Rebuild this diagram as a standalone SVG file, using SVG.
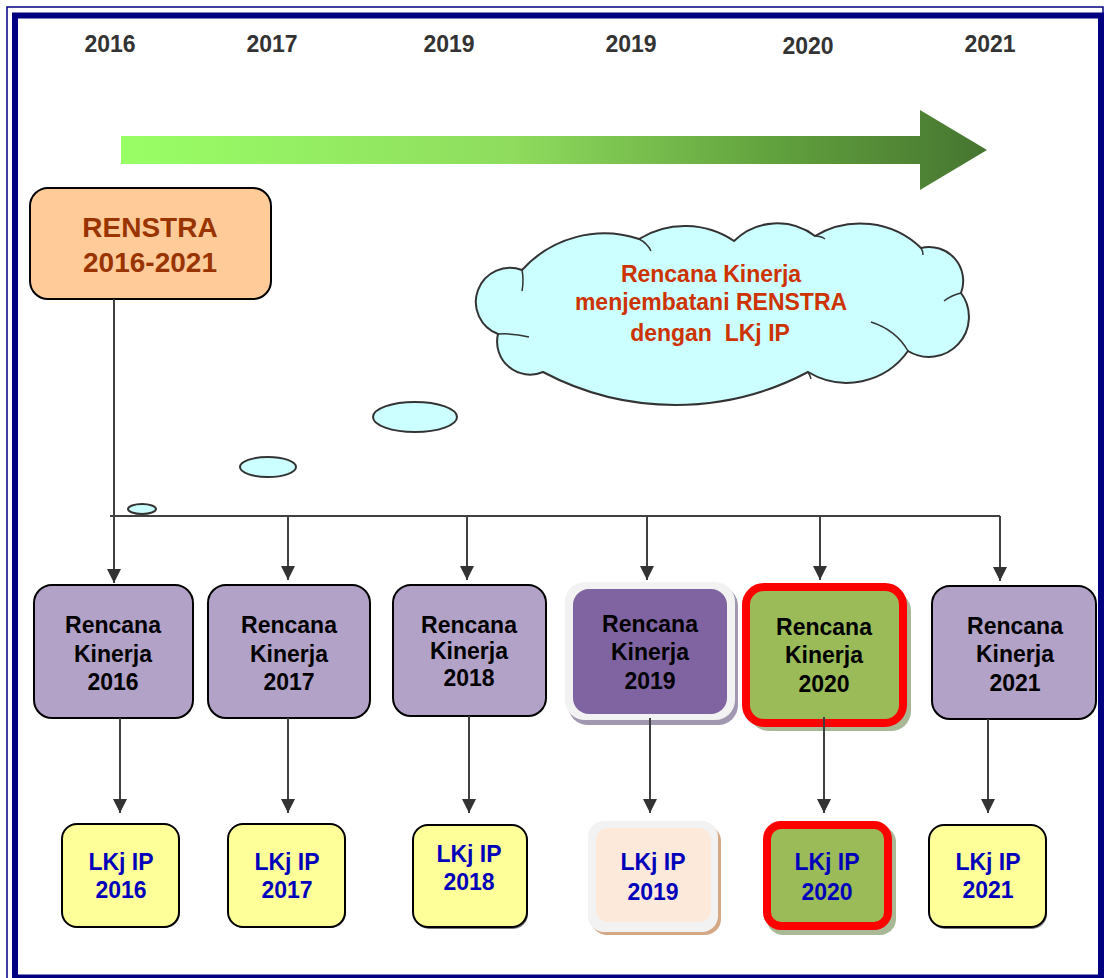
<svg xmlns="http://www.w3.org/2000/svg" width="1106" height="978" viewBox="0 0 1106 978">
<style>
.yr{font-family:"Liberation Sans",Arial,sans-serif;font-weight:bold;font-size:23px;fill:#333;text-anchor:middle}
.rk{font-family:"Liberation Sans",Arial,sans-serif;font-weight:bold;font-size:23px;fill:#000;text-anchor:middle}
.lk{font-family:"Liberation Sans",Arial,sans-serif;font-weight:bold;font-size:23px;fill:#0000bb;text-anchor:middle}
.cl{font-family:"Liberation Sans",Arial,sans-serif;font-weight:bold;font-size:23px;fill:#cc3300;text-anchor:middle}
.lav{fill:#b3a2c7;stroke:#000;stroke-width:2}
.yel{fill:#ffff99;stroke:#000;stroke-width:2}
.ysh{fill:#777}
.conn{stroke:#404040;stroke-width:2;fill:none}
.crease{stroke:#333;stroke-width:1.5;fill:none}
</style>
<defs>
<linearGradient id="g" x1="121" y1="0" x2="987" y2="0" gradientUnits="userSpaceOnUse">
<stop offset="0" stop-color="#99ff66"/>
<stop offset="0.45" stop-color="#8fdc5e"/>
<stop offset="0.75" stop-color="#62a23e"/>
<stop offset="1" stop-color="#467530"/>
</linearGradient>
<marker id="ah" markerUnits="userSpaceOnUse" markerWidth="14" markerHeight="14" refX="14" refY="7" orient="auto">
<path d="M0,0 L14,7 L0,14 z" fill="#333"/>
</marker>
</defs>
<rect width="1106" height="978" fill="#fff"/>
<g id="frame" fill="none">
<rect x="7" y="7" width="1096" height="980" stroke="#000080" stroke-width="1.5"/>
<rect x="15" y="15.5" width="1086" height="962" stroke="#000080" stroke-width="6"/>
</g>
<g id="years">
<text class="yr" x="110" y="52">2016</text>
<text class="yr" x="272" y="52">2017</text>
<text class="yr" x="449" y="52">2019</text>
<text class="yr" x="631" y="52">2019</text>
<text class="yr" x="808" y="54">2020</text>
<text class="yr" x="990" y="52">2021</text>
</g>
<g id="timeline-arrow">
<polygon points="121,136 920,136 920,110 987,150 920,190 920,164 121,164" fill="url(#g)"/>
</g>
<g id="renstra">
<rect x="30" y="188" width="241" height="111" rx="18" fill="#ffcc99" stroke="#000" stroke-width="2"/>
<text x="150" y="237" font-family="Liberation Sans, Arial, sans-serif" font-weight="bold" font-size="28" fill="#993300" text-anchor="middle">RENSTRA</text>
<text x="150" y="272" font-family="Liberation Sans, Arial, sans-serif" font-weight="bold" font-size="28" fill="#993300" text-anchor="middle">2016-2021</text>
</g>
<g id="cloud">
<path d="M522,270 A111,111 0 0 1 639,239 A88,88 0 0 1 734,241 A62,62 0 0 1 815,236 A88,88 0 0 1 921,248 A34,34 0 0 1 961,293 A40,40 0 0 1 908,351 A75,75 0 0 1 808,372 A283,283 0 0 1 543,372 A33,33 0 0 1 498,334 A34,34 0 0 1 522,270 Z" fill="#ccffff" stroke="#333" stroke-width="2"/>
<path class="crease" d="M522,270 q2,10 0,21"/>
<path class="crease" d="M639,239 q8,4 12,12"/>
<path class="crease" d="M815,236 q6,0 10,3"/>
<path class="crease" d="M921,248 q2,3 2,7"/>
<path class="crease" d="M961,293 q-9,2 -17,8"/>
<path class="crease" d="M871,322 q25,8 37,29"/>
<path class="crease" d="M808,372 q2,3 3,7"/>
<path class="crease" d="M529,337 q-16,-4 -31,-3"/>
<text class="cl" x="711" y="282">Rencana Kinerja</text>
<text class="cl" x="711" y="310">menjembatani RENSTRA</text>
<text class="cl" x="710" y="341" xml:space="preserve">dengan  LKj IP</text>
</g>
<g id="bubbles" fill="#ccffff" stroke="#333" stroke-width="2">
<ellipse cx="415" cy="417" rx="42" ry="15"/>
<ellipse cx="268" cy="467" rx="28" ry="10"/>
<ellipse cx="142" cy="509" rx="14" ry="5"/>
</g>
<g id="rk2016">
<rect class="lav" x="34" y="585" width="159" height="133" rx="18"/>
<text class="rk" x="113" y="633">Rencana</text>
<text class="rk" x="113" y="662">Kinerja</text>
<text class="rk" x="113" y="690">2016</text>
</g>
<g id="rk2017">
<rect class="lav" x="208" y="585" width="162" height="133" rx="18"/>
<text class="rk" x="289" y="633">Rencana</text>
<text class="rk" x="289" y="662">Kinerja</text>
<text class="rk" x="289" y="690">2017</text>
</g>
<g id="rk2018">
<rect class="lav" x="393" y="585" width="153" height="131" rx="18"/>
<text class="rk" x="469" y="633">Rencana</text>
<text class="rk" x="469" y="659">Kinerja</text>
<text class="rk" x="469" y="686">2018</text>
</g>
<g id="rk2019">
<rect x="568" y="586" width="170" height="139" rx="20" fill="#a197b0"/>
<rect x="565" y="582" width="170" height="138" rx="20" fill="#f2f2f2"/>
<rect x="573" y="589" width="154" height="125" rx="16" fill="#8064a2"/>
<text class="rk" x="650" y="632">Rencana</text>
<text class="rk" x="650" y="660">Kinerja</text>
<text class="rk" x="650" y="689">2019</text>
</g>
<g id="rk2020">
<rect x="749" y="591" width="162" height="140" rx="20" fill="#a9b996"/>
<rect x="746" y="587" width="157" height="136" rx="18" fill="#9bbb59" stroke="#ff0000" stroke-width="8"/>
<text class="rk" x="824" y="635">Rencana</text>
<text class="rk" x="824" y="663">Kinerja</text>
<text class="rk" x="824" y="692">2020</text>
</g>
<g id="rk2021">
<rect class="lav" x="932" y="586" width="164" height="133" rx="18"/>
<text class="rk" x="1015" y="634">Rencana</text>
<text class="rk" x="1015" y="662">Kinerja</text>
<text class="rk" x="1015" y="691">2021</text>
</g>
<g id="lk2016">
<rect class="ysh" x="63" y="826" width="117" height="102" rx="15"/>
<rect class="yel" x="62" y="824" width="117" height="103" rx="15"/>
<text class="lk" x="121" y="870">LKj IP</text>
<text class="lk" x="121" y="898">2016</text>
</g>
<g id="lk2017">
<rect class="ysh" x="229" y="826" width="117" height="102" rx="15"/>
<rect class="yel" x="228" y="824" width="117" height="103" rx="15"/>
<text class="lk" x="287" y="870">LKj IP</text>
<text class="lk" x="287" y="898">2017</text>
</g>
<g id="lk2018">
<rect class="ysh" x="414" y="827" width="114" height="102" rx="15"/>
<rect class="yel" x="413" y="825" width="114" height="102" rx="15"/>
<text class="lk" x="469" y="862">LKj IP</text>
<text class="lk" x="469" y="890">2018</text>
</g>
<g id="lk2019">
<rect x="591" y="825" width="130" height="110" rx="16" fill="#d4a885"/>
<rect x="588" y="821" width="130" height="111" rx="16" fill="#f2f2f2"/>
<rect x="596" y="828" width="115" height="94" rx="12" fill="#fde9d9"/>
<text class="lk" x="653" y="870">LKj IP</text>
<text class="lk" x="653" y="900">2019</text>
</g>
<g id="lk2020">
<rect x="767" y="826" width="129" height="109" rx="16" fill="#a9b996"/>
<rect x="767" y="825" width="121" height="101" rx="14" fill="#9bbb59" stroke="#ff0000" stroke-width="8"/>
<text class="lk" x="827" y="870">LKj IP</text>
<text class="lk" x="827" y="900">2020</text>
</g>
<g id="lk2021">
<rect class="ysh" x="930" y="827" width="117" height="102" rx="15"/>
<rect class="yel" x="929" y="825" width="117" height="102" rx="15"/>
<text class="lk" x="988" y="870">LKj IP</text>
<text class="lk" x="988" y="898">2021</text>
</g>
<g id="connectors">
<line class="conn" x1="110" y1="516" x2="1000" y2="516"/>
<line class="conn" x1="114" y1="299" x2="114" y2="583" marker-end="url(#ah)"/>
<line class="conn" x1="288" y1="516" x2="288" y2="580" marker-end="url(#ah)"/>
<line class="conn" x1="467" y1="516" x2="467" y2="580" marker-end="url(#ah)"/>
<line class="conn" x1="647" y1="516" x2="647" y2="580" marker-end="url(#ah)"/>
<line class="conn" x1="820" y1="516" x2="820" y2="580" marker-end="url(#ah)"/>
<line class="conn" x1="1000" y1="516" x2="1000" y2="581" marker-end="url(#ah)"/>
<line class="conn" x1="120" y1="718" x2="120" y2="813" marker-end="url(#ah)"/>
<line class="conn" x1="288" y1="718" x2="288" y2="813" marker-end="url(#ah)"/>
<line class="conn" x1="469" y1="716" x2="469" y2="813" marker-end="url(#ah)"/>
<line class="conn" x1="650" y1="718" x2="650" y2="813" marker-end="url(#ah)"/>
<line class="conn" x1="824" y1="717" x2="824" y2="813" marker-end="url(#ah)"/>
<line class="conn" x1="988" y1="719" x2="988" y2="813" marker-end="url(#ah)"/>
</g>
</svg>
